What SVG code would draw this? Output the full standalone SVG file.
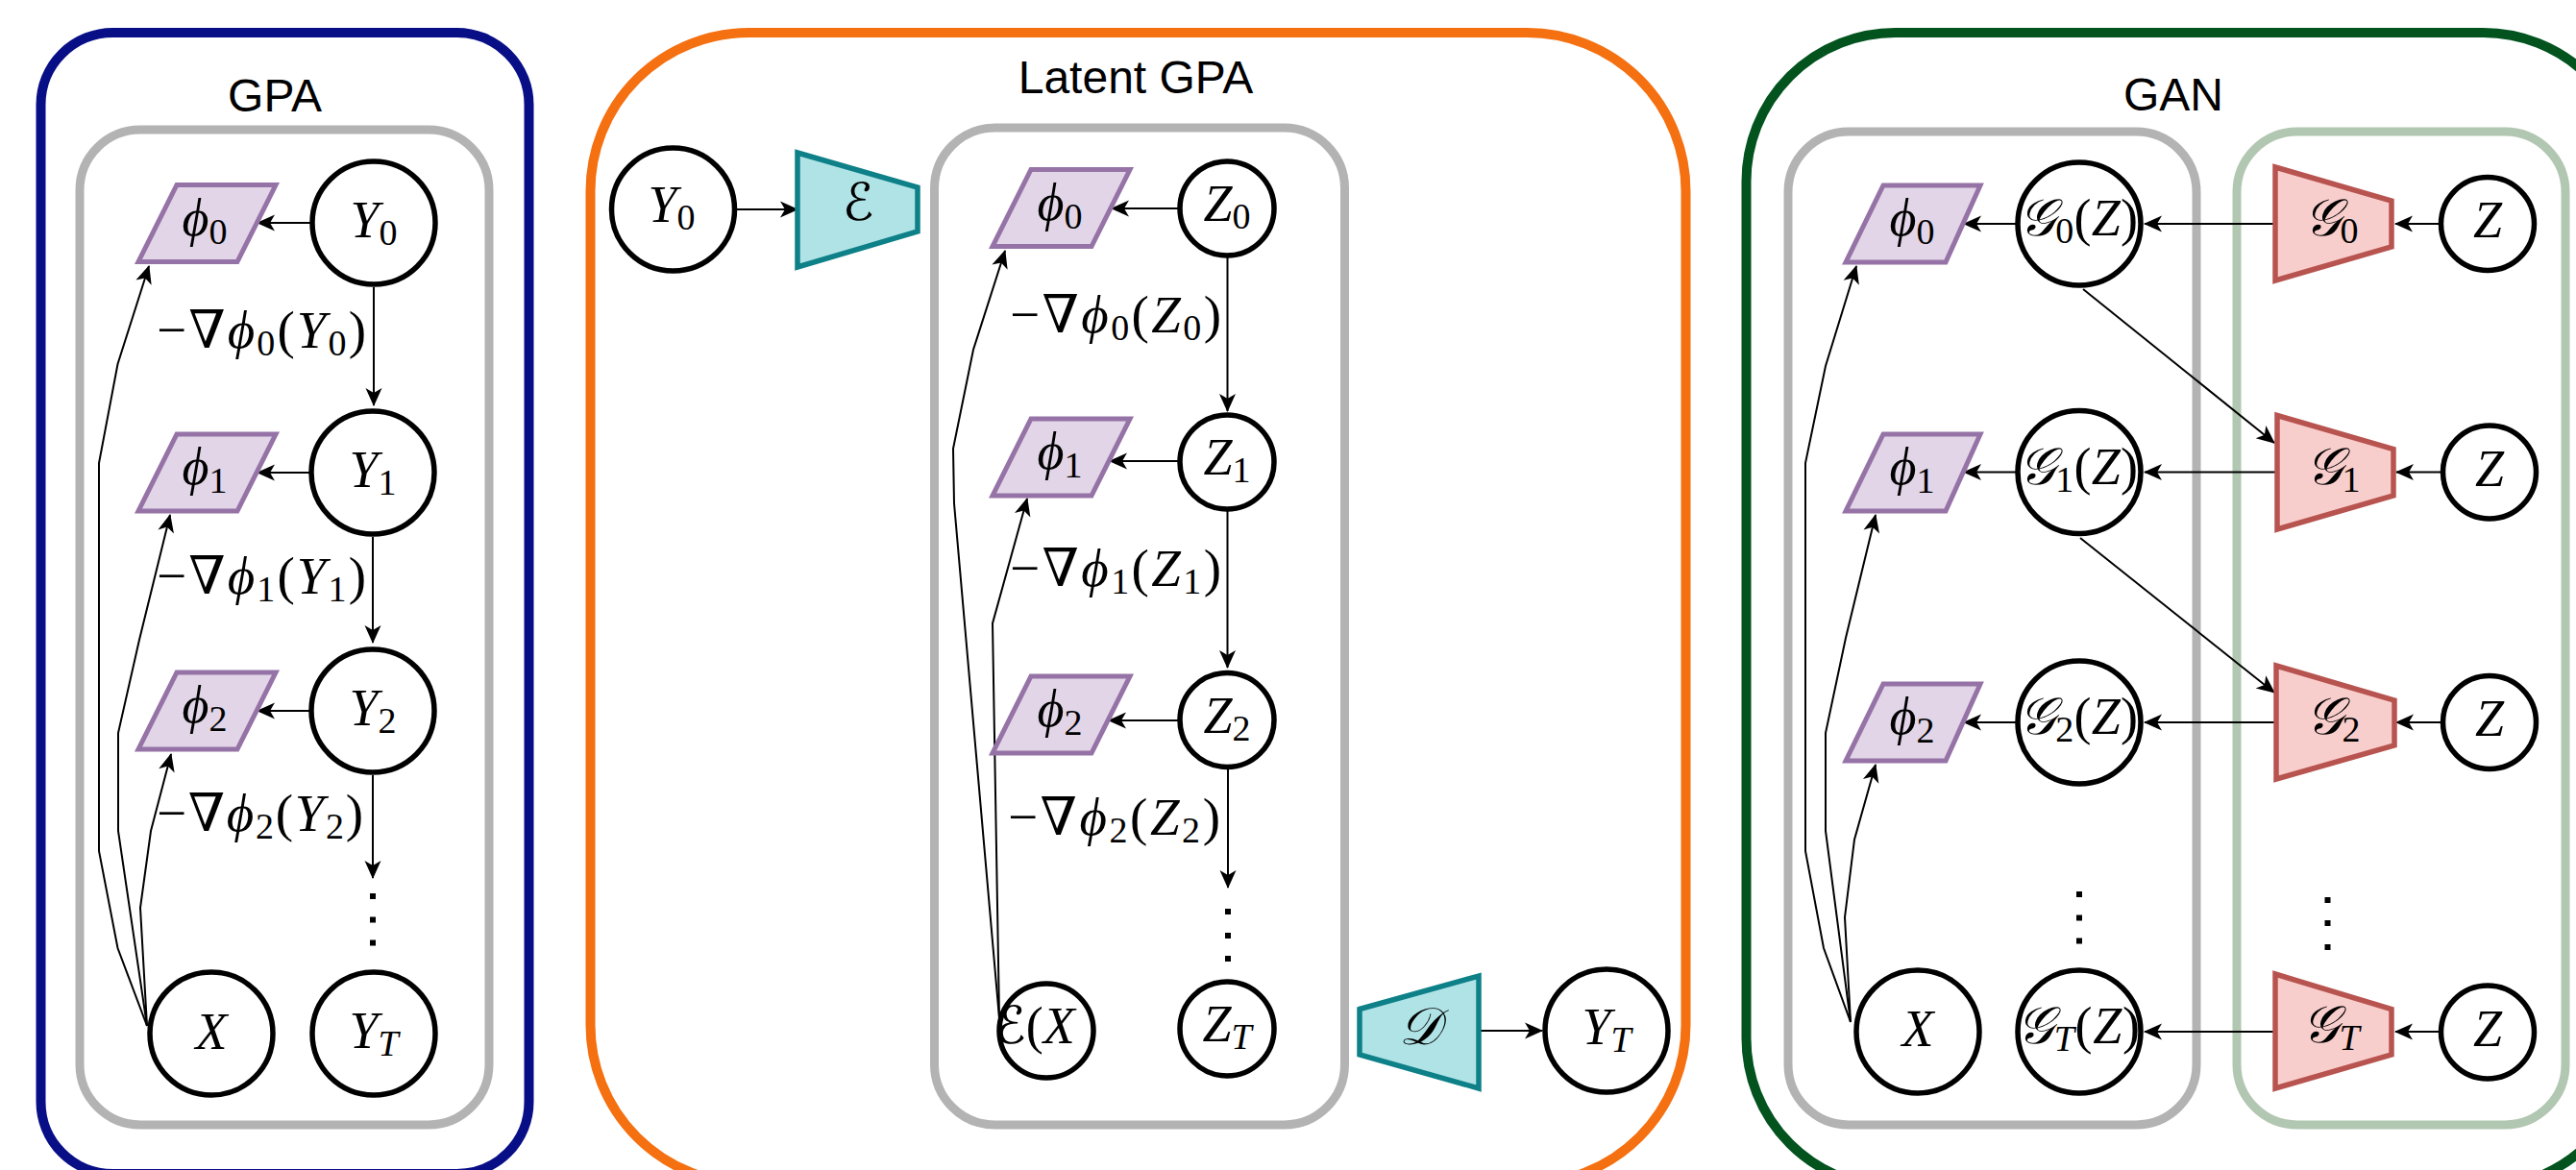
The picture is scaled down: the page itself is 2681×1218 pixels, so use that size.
<svg xmlns="http://www.w3.org/2000/svg" width="2681" height="1218" viewBox="0 0 2681 1218">
<style>
.bg{fill:#ffffff}
.title{font-family:'Liberation Sans',Arial,sans-serif;font-size:48px;fill:#000;text-anchor:middle}
.m{font-family:'Liberation Serif','DejaVu Serif',serif;font-size:54px;fill:#000}
.lab{font-family:'Liberation Serif','DejaVu Serif',serif;font-size:55px;fill:#000}
.c{text-anchor:middle}
.i{font-style:italic}
.s{font-size:38px}
.cal{font-family:'DejaVu Serif','DejaVu Sans','Noto Sans',serif;font-style:italic}
.node{fill:#fff;stroke:#000;stroke-width:5.5}
.phi{fill:#e1d5e7;stroke:#9673a6;stroke-width:5}
.enc{fill:#b0e3e6;stroke:#0e8088;stroke-width:5.5}
.gen{fill:#f8cecc;stroke:#b85450;stroke-width:5.5}
.box{fill:none;stroke-width:10}
.inner{fill:none;stroke:#b3b3b3;stroke-width:9}
.ingreen{fill:none;stroke:#b2c7b1;stroke-width:9}
.edge{fill:none;stroke:#000;stroke-width:2;marker-end:url(#arr)}
.dot{fill:#000}
</style>
<defs>
<marker id="arr" viewBox="-20 -10 22 20" refX="0" refY="0" markerWidth="22" markerHeight="20" markerUnits="userSpaceOnUse" orient="auto">
<path d="M1,0 L-18,-8.5 L-13,0 L-18,8.5 Z" fill="#000"/>
</marker>
</defs>
<rect class="bg" x="0" y="0" width="2681" height="1218"/>

<g id="containers">
<rect class="box" x="42.5" y="34" width="508" height="1188" rx="75" stroke="#080e86"/>
<rect class="box" x="614.5" y="34" width="1140" height="1198" rx="165" stroke="#f47011"/>
<rect class="box" x="1817.5" y="34" width="922" height="1202" rx="155" stroke="#03531f"/>
<rect class="inner" x="83" y="135" width="426" height="1036" rx="63"/>
<rect class="inner" x="972.5" y="133" width="427" height="1038" rx="63"/>
<rect class="inner" x="1861" y="137" width="425" height="1034" rx="63"/>
<rect class="ingreen" x="2328" y="137" width="342" height="1034" rx="63"/>
<text class="title" x="286" y="116">GPA</text>
<text class="title" x="1182" y="97">Latent GPA</text>
<text class="title" x="2262" y="115">GAN</text>
</g>

<g id="connectors">
<line class="edge" x1="325" y1="232" x2="268" y2="232"/>
<line class="edge" x1="324" y1="492" x2="268" y2="492"/>
<line class="edge" x1="324" y1="740" x2="268" y2="740"/>
<line class="edge" x1="389" y1="299" x2="389" y2="422"/>
<line class="edge" x1="388" y1="559" x2="388" y2="669"/>
<line class="edge" x1="388" y1="807" x2="388" y2="914"/>
<polyline class="edge" points="153,1068 122.5,987 103,886 103,482 122.5,379 155,277"/>
<polyline class="edge" points="153,1068 123,865 123,763 145,666 177,536"/>
<polyline class="edge" points="153,1068 146,945 157,865 178,785"/>
<line class="edge" x1="767" y1="218" x2="830" y2="218"/>
<line class="edge" x1="1228" y1="217" x2="1157" y2="217"/>
<line class="edge" x1="1228" y1="480" x2="1155" y2="480"/>
<line class="edge" x1="1228" y1="750" x2="1154" y2="750"/>
<line class="edge" x1="1277.5" y1="268" x2="1277.5" y2="428"/>
<line class="edge" x1="1277.5" y1="532" x2="1277.5" y2="695"/>
<line class="edge" x1="1278" y1="801" x2="1278" y2="924"/>
<polyline class="edge" points="1040,1060 993,524 992,467 1013,364 1046,261"/>
<polyline class="edge" points="1040,1060 1033,649 1069,519"/>
<line class="edge" x1="1539" y1="1073" x2="1605" y2="1073"/>
<line class="edge" x1="2540" y1="233" x2="2493" y2="233"/>
<line class="edge" x1="2541" y1="491.5" x2="2494" y2="491.5"/>
<line class="edge" x1="2541" y1="752" x2="2494" y2="752"/>
<line class="edge" x1="2540" y1="1074" x2="2493" y2="1074"/>
<line class="edge" x1="2367" y1="233" x2="2232" y2="233"/>
<line class="edge" x1="2369" y1="491.5" x2="2232" y2="491.5"/>
<line class="edge" x1="2369" y1="752" x2="2232" y2="752"/>
<line class="edge" x1="2367" y1="1074" x2="2232" y2="1074"/>
<line class="edge" x1="2098" y1="233" x2="2044" y2="233"/>
<line class="edge" x1="2098" y1="491.5" x2="2044" y2="491.5"/>
<line class="edge" x1="2098" y1="752" x2="2044" y2="752"/>
<line class="edge" x1="2168" y1="301" x2="2367" y2="461"/>
<line class="edge" x1="2165" y1="560" x2="2367" y2="721"/>
<polyline class="edge" points="1926,1064 1898,987 1879,886 1879,482 1900,381 1932,277"/>
<polyline class="edge" points="1926,1064 1900,865 1900,763 1921,664 1952,536"/>
<polyline class="edge" points="1926,1064 1920,955 1930,874 1952,796"/>
</g>

<g id="edge-labels">
<text class="lab" x="381" y="362" text-anchor="end" textLength="218">−∇<tspan class="i">ϕ</tspan><tspan class="s" dy="8">0</tspan><tspan dy="-8">(</tspan><tspan class="i">Y</tspan><tspan class="s" dy="8">0</tspan><tspan dy="-8">)</tspan></text>
<text class="lab" x="381" y="618" text-anchor="end" textLength="218">−∇<tspan class="i">ϕ</tspan><tspan class="s" dy="8">1</tspan><tspan dy="-8">(</tspan><tspan class="i">Y</tspan><tspan class="s" dy="8">1</tspan><tspan dy="-8">)</tspan></text>
<text class="lab" x="378" y="865" text-anchor="end" textLength="215">−∇<tspan class="i">ϕ</tspan><tspan class="s" dy="8">2</tspan><tspan dy="-8">(</tspan><tspan class="i">Y</tspan><tspan class="s" dy="8">2</tspan><tspan dy="-8">)</tspan></text>
<text class="lab" x="1271" y="346" text-anchor="end" textLength="220">−∇<tspan class="i">ϕ</tspan><tspan class="s" dy="8">0</tspan><tspan dy="-8">(</tspan><tspan class="i">Z</tspan><tspan class="s" dy="8">0</tspan><tspan dy="-8">)</tspan></text>
<text class="lab" x="1271" y="610" text-anchor="end" textLength="220">−∇<tspan class="i">ϕ</tspan><tspan class="s" dy="8">1</tspan><tspan dy="-8">(</tspan><tspan class="i">Z</tspan><tspan class="s" dy="8">1</tspan><tspan dy="-8">)</tspan></text>
<text class="lab" x="1270" y="869" text-anchor="end" textLength="221">−∇<tspan class="i">ϕ</tspan><tspan class="s" dy="8">2</tspan><tspan dy="-8">(</tspan><tspan class="i">Z</tspan><tspan class="s" dy="8">2</tspan><tspan dy="-8">)</tspan></text>
</g>

<g id="gpa-phi0"><polygon class="phi" points="184,192.5 287,192.5 247,272.5 144,272.5"/><text class="m c" x="213" y="245"><tspan class="i">ϕ</tspan><tspan class="s" dy="9">0</tspan></text></g>
<g id="gpa-phi1"><polygon class="phi" points="184,452 287,452 247,532 144,532"/><text class="m c" x="213" y="504"><tspan class="i">ϕ</tspan><tspan class="s" dy="9">1</tspan></text></g>
<g id="gpa-phi2"><polygon class="phi" points="184,700 287,700 247,780 144,780"/><text class="m c" x="213" y="752"><tspan class="i">ϕ</tspan><tspan class="s" dy="9">2</tspan></text></g>
<g id="gpa-Y0"><circle class="node" cx="389" cy="232" r="64"/><text class="m c" x="389" y="247"><tspan class="i">Y</tspan><tspan class="s" dy="8">0</tspan></text></g>
<g id="gpa-Y1"><circle class="node" cx="388" cy="492" r="64"/><text class="m c" x="388" y="507"><tspan class="i">Y</tspan><tspan class="s" dy="8">1</tspan></text></g>
<g id="gpa-Y2"><circle class="node" cx="388" cy="740" r="64"/><text class="m c" x="388" y="755"><tspan class="i">Y</tspan><tspan class="s" dy="8">2</tspan></text></g>
<g id="gpa-dots"><rect class="dot" x="385" y="930" width="6" height="6"/><rect class="dot" x="385" y="954.5" width="6" height="6"/><rect class="dot" x="385" y="978.5" width="6" height="6"/></g>
<g id="gpa-X"><circle class="node" cx="220" cy="1076" r="64"/><text class="m c i" x="220" y="1092">X</text></g>
<g id="gpa-YT"><circle class="node" cx="389" cy="1076" r="64"/><text class="m c" x="389" y="1091"><tspan class="i">Y</tspan><tspan class="s i" dy="8">T</tspan></text></g>

<g id="lat-Y0"><circle class="node" cx="700.5" cy="218" r="64"/><text class="m c" x="699" y="231"><tspan class="i">Y</tspan><tspan class="s" dy="8">0</tspan></text></g>
<g id="lat-E"><polygon class="enc" points="830,159 955,195 955,241 830,278"/><text class="m c cal" x="893" y="229">ℰ</text></g>
<g id="lat-phi0"><polygon class="phi" points="1073,176.5 1176,176.5 1136,256.5 1033,256.5"/><text class="m c" x="1103" y="229"><tspan class="i">ϕ</tspan><tspan class="s" dy="9">0</tspan></text></g>
<g id="lat-phi1"><polygon class="phi" points="1073,436 1176,436 1136,516 1033,516"/><text class="m c" x="1103" y="488"><tspan class="i">ϕ</tspan><tspan class="s" dy="9">1</tspan></text></g>
<g id="lat-phi2"><polygon class="phi" points="1073,704 1176,704 1136,784 1033,784"/><text class="m c" x="1103" y="756"><tspan class="i">ϕ</tspan><tspan class="s" dy="9">2</tspan></text></g>
<g id="lat-Z0"><circle class="node" cx="1277" cy="217" r="49"/><text class="m c" x="1277" y="230"><tspan class="i">Z</tspan><tspan class="s" dy="8">0</tspan></text></g>
<g id="lat-Z1"><circle class="node" cx="1277" cy="481" r="49"/><text class="m c" x="1277" y="494"><tspan class="i">Z</tspan><tspan class="s" dy="8">1</tspan></text></g>
<g id="lat-Z2"><circle class="node" cx="1277" cy="749.5" r="49"/><text class="m c" x="1277" y="763"><tspan class="i">Z</tspan><tspan class="s" dy="8">2</tspan></text></g>
<g id="lat-dots"><rect class="dot" x="1275" y="946" width="6" height="6"/><rect class="dot" x="1275" y="971" width="6" height="6"/><rect class="dot" x="1275" y="995" width="6" height="6"/></g>
<g id="lat-EX"><circle class="node" cx="1089" cy="1073" r="49"/><text class="m" x="1035" y="1086"><tspan class="cal">ℰ</tspan>(<tspan class="i">X</tspan></text></g>
<g id="lat-ZT"><circle class="node" cx="1277" cy="1071" r="49"/><text class="m c" x="1277" y="1084"><tspan class="i">Z</tspan><tspan class="s i" dy="8">T</tspan></text></g>
<g id="lat-D"><polygon class="enc" points="1415,1050.5 1539,1016 1539,1133 1415,1098"/><text class="m c cal" x="1477" y="1087">𝒟</text></g>
<g id="lat-YT"><circle class="node" cx="1672" cy="1073" r="64"/><text class="m c" x="1672" y="1087"><tspan class="i">Y</tspan><tspan class="s i" dy="8">T</tspan></text></g>

<g id="gan-phi0"><polygon class="phi" points="1960,193 2061,193 2025,273 1921,273"/><text class="m c" x="1990" y="245"><tspan class="i">ϕ</tspan><tspan class="s" dy="9">0</tspan></text></g>
<g id="gan-phi1"><polygon class="phi" points="1960,452 2061,452 2025,532 1921,532"/><text class="m c" x="1990" y="504"><tspan class="i">ϕ</tspan><tspan class="s" dy="9">1</tspan></text></g>
<g id="gan-phi2"><polygon class="phi" points="1960,712 2061,712 2025,792 1921,792"/><text class="m c" x="1990" y="764"><tspan class="i">ϕ</tspan><tspan class="s" dy="9">2</tspan></text></g>
<g id="gan-G0Z"><circle class="node" cx="2164" cy="233" r="64"/><text class="m c" x="2163" y="245" font-size="46" textLength="124"><tspan class="cal">𝒢</tspan><tspan class="s" font-size="32" dy="8">0</tspan><tspan dy="-8">(</tspan><tspan class="i">Z</tspan>)</text></g>
<g id="gan-G1Z"><circle class="node" cx="2164" cy="491.5" r="64"/><text class="m c" x="2163" y="503.5" font-size="46" textLength="124"><tspan class="cal">𝒢</tspan><tspan class="s" font-size="32" dy="8">1</tspan><tspan dy="-8">(</tspan><tspan class="i">Z</tspan>)</text></g>
<g id="gan-G2Z"><circle class="node" cx="2164" cy="752" r="64"/><text class="m c" x="2163" y="764" font-size="46" textLength="124"><tspan class="cal">𝒢</tspan><tspan class="s" font-size="32" dy="8">2</tspan><tspan dy="-8">(</tspan><tspan class="i">Z</tspan>)</text></g>
<g id="gan-dots"><rect class="dot" x="2161" y="928" width="6" height="6"/><rect class="dot" x="2161" y="952.5" width="6" height="6"/><rect class="dot" x="2161" y="976.5" width="6" height="6"/></g>
<g id="gan-X"><circle class="node" cx="1996" cy="1074" r="64"/><text class="m c i" x="1996" y="1089">X</text></g>
<g id="gan-GTZ"><circle class="node" cx="2164" cy="1074" r="64"/><text class="m c" x="2163" y="1086" font-size="46" textLength="128"><tspan class="cal">𝒢</tspan><tspan class="s i" font-size="32" dy="8">T</tspan><tspan dy="-8">(</tspan><tspan class="i">Z</tspan>)</text></g>
<g id="gan-G0"><polygon class="gen" points="2368,174 2489,209 2489,257 2368,292"/><text class="m c" x="2426" y="245"><tspan class="cal">𝒢</tspan><tspan class="s" dy="8">0</tspan></text></g>
<g id="gan-G1"><polygon class="gen" points="2370,432.5 2491,467.5 2491,516 2370,551"/><text class="m c" x="2428" y="504"><tspan class="cal">𝒢</tspan><tspan class="s" dy="8">1</tspan></text></g>
<g id="gan-G2"><polygon class="gen" points="2369,693 2492,729 2492,776 2369,811"/><text class="m c" x="2428" y="764"><tspan class="cal">𝒢</tspan><tspan class="s" dy="8">2</tspan></text></g>
<g id="gan-gdots"><rect class="dot" x="2419.5" y="934" width="6" height="6"/><rect class="dot" x="2419.5" y="958" width="6" height="6"/><rect class="dot" x="2419.5" y="983" width="6" height="6"/></g>
<g id="gan-GT"><polygon class="gen" points="2368,1014 2489,1050.5 2489,1098 2368,1133"/><text class="m c" x="2426" y="1085"><tspan class="cal">𝒢</tspan><tspan class="s i" dy="8">T</tspan></text></g>
<g id="gan-Z0"><circle class="node" cx="2589" cy="233" r="48.5"/><text class="m c i" x="2589" y="247">Z</text></g>
<g id="gan-Z1"><circle class="node" cx="2591" cy="491.5" r="48.5"/><text class="m c i" x="2591" y="505.5">Z</text></g>
<g id="gan-Z2"><circle class="node" cx="2591" cy="752" r="48.5"/><text class="m c i" x="2591" y="766">Z</text></g>
<g id="gan-ZT"><circle class="node" cx="2589" cy="1074.5" r="48.5"/><text class="m c i" x="2589" y="1088.5">Z</text></g>
</svg>
